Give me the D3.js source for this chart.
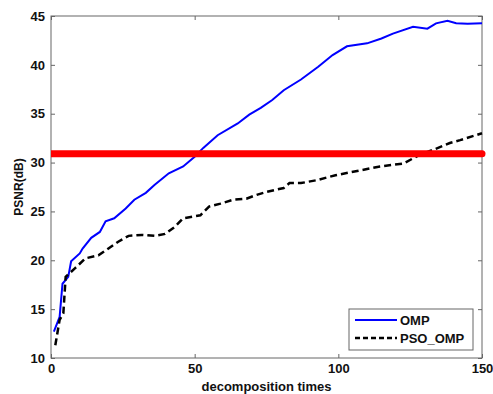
<!DOCTYPE html>
<html>
<head>
<meta charset="utf-8">
<script src="https://cdn.jsdelivr.net/npm/d3@7"></script>
<style>
  body { margin: 0; background: #fff; }
  text { font-family: "Liberation Sans", Arial, sans-serif; fill: #111; font-weight: bold; }
</style>
</head>
<body>
<script>
// Data
var ompX = [1, 3, 4, 6, 7, 10, 11, 14, 17, 19, 22, 26, 29, 33, 36, 41, 46, 50, 53, 58, 65, 69, 73, 77, 81, 87, 93, 98, 103, 110, 115, 119, 126, 131, 134, 138, 141, 145, 150];
var ompY = [12.7, 14.2, 17.6, 18.3, 19.9, 20.7, 21.2, 22.3, 22.9, 24.0, 24.3, 25.3, 26.2, 26.9, 27.7, 28.9, 29.6, 30.6, 31.5, 32.8, 34.0, 34.9, 35.6, 36.4, 37.4, 38.5, 39.8, 41.0, 41.9, 42.2, 42.7, 43.2, 43.9, 43.7, 44.25, 44.5, 44.25, 44.2, 44.25];

var psoX = [1.5, 3, 4.3, 5.1, 8.4, 12, 16.5, 20, 23.4, 27, 31.6, 36, 39.7, 43, 46, 52, 55, 59, 63.5, 68, 71.6, 75, 81, 83, 87, 92.5, 99, 107.6, 114.5, 122.6, 128.4, 133, 138.8, 142.4, 150];
var psoY = [11.3, 13.9, 14.6, 18.3, 19.2, 20.2, 20.5, 21.2, 21.9, 22.5, 22.6, 22.5, 22.7, 23.4, 24.3, 24.6, 25.5, 25.8, 26.2, 26.3, 26.7, 27.0, 27.4, 27.9, 27.9, 28.2, 28.7, 29.2, 29.6, 29.9, 30.8, 31.3, 32.0, 32.3, 33.0];

var thresholdY = 30.9;
var xTicks = [0, 50, 100, 150];
var yTicks = [10, 15, 20, 25, 30, 35, 40, 45];
var seriesNames = ["OMP", "PSO_OMP"];

var margin = { top: 16, right: 11, bottom: 36, left: 51 },
    width = 493 - margin.left - margin.right,
    height = 394 - margin.top - margin.bottom;

var svg = d3.select("body").append("svg")
    .attr("width", 493)
    .attr("height", 394)
    .append("g")
    .attr("transform", "translate(" + margin.left + "," + margin.top + ")");

var x = d3.scaleLinear().domain([0, 150]).range([0, width]);
var y = d3.scaleLinear().domain([10, 45]).range([height, 0]);

// Axes (MATLAB style: ticks inside, box on all sides)
var axisColor = "#666";
function styleAxis(g) {
    g.select(".domain").remove();
    g.selectAll("line").attr("stroke", axisColor);
    g.selectAll("text").style("font-size", "13px").style("font-weight", "bold").attr("fill", "#111");
}

svg.append("g")
    .attr("transform", "translate(0," + height + ")")
    .call(d3.axisBottom(x).tickValues(xTicks).tickSizeInner(-4).tickSizeOuter(0).tickPadding(6))
    .call(styleAxis);
svg.append("g")
    .call(d3.axisLeft(y).tickValues(yTicks).tickSizeInner(-4).tickSizeOuter(0).tickPadding(6))
    .call(styleAxis);
svg.append("g")
    .call(d3.axisTop(x).tickValues(xTicks).tickSizeInner(-4).tickSizeOuter(0).tickFormat(""))
    .call(styleAxis);
svg.append("g")
    .attr("transform", "translate(" + width + ",0)")
    .call(d3.axisRight(y).tickValues(yTicks).tickSizeInner(-4).tickSizeOuter(0).tickFormat(""))
    .call(styleAxis);

svg.append("rect")
    .attr("width", width)
    .attr("height", height)
    .attr("fill", "none")
    .attr("stroke", axisColor)
    .attr("stroke-width", 1);

// Lines
var line = d3.line()
    .x(function (d) { return x(d[0]); })
    .y(function (d) { return y(d[1]); });

svg.append("path")
    .datum(ompX.map(function (v, i) { return [v, ompY[i]]; }))
    .attr("fill", "none")
    .attr("stroke", "#0000ff")
    .attr("stroke-width", 2)
    .attr("d", line);

svg.append("path")
    .datum(psoX.map(function (v, i) { return [v, psoY[i]]; }))
    .attr("fill", "none")
    .attr("stroke", "#000")
    .attr("stroke-width", 2.5)
    .attr("stroke-dasharray", "7,4")
    .attr("d", line);

// Red threshold line, flat at the left axis, round at the right end
svg.append("clipPath")
    .attr("id", "clip-left")
    .append("rect")
    .attr("x", 0).attr("y", -20)
    .attr("width", width + 20).attr("height", height + 40);

svg.append("line")
    .attr("clip-path", "url(#clip-left)")
    .attr("x1", x(0))
    .attr("x2", x(150))
    .attr("y1", y(thresholdY))
    .attr("y2", y(thresholdY))
    .attr("stroke", "#ff0000")
    .attr("stroke-width", 7)
    .attr("stroke-linecap", "round");

// Legend
var legend = svg.append("g")
    .attr("transform", "translate(" + (349 - margin.left) + "," + (309 - margin.top) + ")");
legend.append("rect")
    .attr("width", 124)
    .attr("height", 41)
    .attr("fill", "#fff")
    .attr("stroke", axisColor);
var legendStyles = [
    { stroke: "#0000ff", width: 2, dash: null },
    { stroke: "#000", width: 2.5, dash: "5,3" }
];
seriesNames.forEach(function (name, i) {
    var cy = 11 + i * 18;
    legend.append("line")
        .attr("x1", 6).attr("x2", 48)
        .attr("y1", cy).attr("y2", cy)
        .attr("stroke", legendStyles[i].stroke)
        .attr("stroke-width", legendStyles[i].width)
        .attr("stroke-dasharray", legendStyles[i].dash);
    legend.append("text")
        .attr("x", 51)
        .attr("y", cy)
        .attr("dy", "0.35em")
        .style("font-size", "13px")
        .text(name);
});

// Axis labels
svg.append("text")
    .attr("x", width / 2)
    .attr("y", height + 33)
    .attr("text-anchor", "middle")
    .style("font-size", "13px")
    .text("decomposition times");

svg.append("text")
    .attr("transform", "translate(" + (-28) + "," + (187 - margin.top) + ") rotate(-90)")
    .attr("text-anchor", "middle")
    .style("font-size", "12px")
    .text("PSNR(dB)");
</script>
</body>
</html>
